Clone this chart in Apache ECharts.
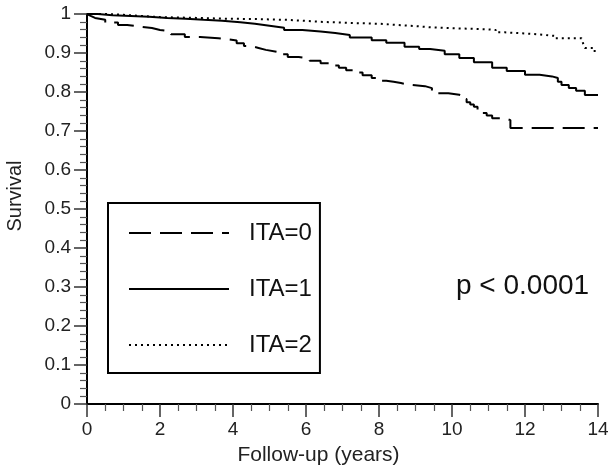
<!DOCTYPE html>
<html>
<head>
<meta charset="utf-8">
<script src="https://cdn.jsdelivr.net/npm/echarts@6/dist/echarts.min.js"></script>
<style>html,body{margin:0;padding:0;background:#fff;}#c{width:608px;height:472px;}</style>
</head>
<body>
<div id="c"></div>
<script>
const xTicks = [0, 2, 4, 6, 8, 10, 12, 14];
const yTicks = [0, 0.1, 0.2, 0.3, 0.4, 0.5, 0.6, 0.7, 0.8, 0.9, 1];
const seriesNames = ['ITA=0', 'ITA=1', 'ITA=2'];
const ita0 = [[0,1],[0.05,0.995],[0.1,0.99],[0.22,0.985],[0.5,0.978],[0.85,0.972],[1.1,0.968],[1.4,0.964],[1.78,0.959],[2.0,0.955],[2.3,0.948],[2.68,0.941],[3.1,0.938],[3.6,0.936],[3.8,0.932],[4.1,0.925],[4.3,0.918],[4.5,0.913],[4.7,0.908],[4.9,0.903],[5.2,0.897],[5.5,0.89],[5.8,0.886],[6.1,0.88],[6.4,0.874],[6.7,0.868],[6.9,0.862],[7.1,0.856],[7.3,0.85],[7.55,0.843],[7.8,0.836],[8.0,0.829],[8.2,0.826],[8.4,0.823],[8.6,0.819],[8.8,0.815],[9.26,0.81],[9.45,0.803],[9.6,0.797],[9.9,0.793],[10.2,0.79],[10.3,0.782],[10.4,0.774],[10.5,0.768],[10.6,0.762],[10.7,0.754],[10.8,0.746],[10.95,0.74],[11.1,0.733],[11.45,0.728],[11.6,0.708],[14,0.708]];
const ita1 = [[0,1],[0.3,0.997],[0.7,0.995],[1.2,0.993],[1.7,0.99],[2.2,0.988],[2.7,0.985],[3.2,0.983],[3.7,0.979],[4.2,0.975],[4.6,0.97],[5.0,0.965],[5.4,0.959],[5.9,0.955],[6.4,0.951],[6.8,0.946],[7.2,0.94],[7.8,0.933],[8.2,0.926],[8.7,0.916],[9.1,0.91],[9.4,0.906],[9.8,0.897],[10.2,0.887],[10.6,0.876],[11.1,0.862],[11.5,0.854],[12,0.844],[12.4,0.84],[12.74,0.836],[12.9,0.826],[13.0,0.818],[13.2,0.81],[13.4,0.803],[13.64,0.792],[14,0.792]];
const ita2 = [[0,1],[0.5,0.998],[1,0.995],[1.5,0.992],[2,0.99],[3,0.988],[3.8,0.987],[4.6,0.985],[5.5,0.98],[6.4,0.977],[7.2,0.975],[8,0.972],[8.5,0.969],[9,0.966],[9.4,0.963],[10.2,0.961],[10.9,0.959],[11.2,0.953],[11.45,0.949],[12.2,0.944],[12.8,0.938],[13.55,0.933],[13.6,0.922],[13.64,0.913],[13.86,0.905],[14,0.905]];
const pText = 'p < 0.0001';

const font = 'Liberation Sans, Arial, sans-serif';
const chart = echarts.init(document.getElementById('c'));
const axisCommon = {
  axisLine: {lineStyle: {color: '#000', width: 2}},
  axisTick: {show: true, inside: false, length: 13, lineStyle: {color: '#333', width: 1.5}},
  minorTick: {show: true, length: 7, lineStyle: {color: '#555', width: 1.2}},
  splitLine: {show: false},
  minorSplitLine: {show: false},
  axisLabel: {color: '#222', fontSize: 19, fontFamily: font, margin: 16},
  nameTextStyle: {color: '#222', fontSize: 20, fontFamily: font}
};
chart.setOption({
  animation: false,
  backgroundColor: '#fff',
  grid: {left: 87, right: 10, top: 14, bottom: 68, containLabel: false, outerBoundsMode: 'none'},
  xAxis: Object.assign({}, axisCommon, {
    type: 'value', min: xTicks[0], max: xTicks[xTicks.length-1], interval: 2,
    minorTick: Object.assign({}, axisCommon.minorTick, {splitNumber: 4}),
    name: 'Follow-up (years)', nameLocation: 'middle', nameGap: 41,
    nameTextStyle: Object.assign({}, axisCommon.nameTextStyle, {fontSize: 21, padding: [0, 48, 0, 0]})
  }),
  yAxis: Object.assign({}, axisCommon, {
    type: 'value', min: yTicks[0], max: yTicks[yTicks.length-1], interval: 0.1,
    minorTick: Object.assign({}, axisCommon.minorTick, {splitNumber: 5}),
    axisLabel: Object.assign({}, axisCommon.axisLabel, {formatter: v => String(+v.toFixed(1))}),
    name: 'Survival', nameLocation: 'middle', nameGap: 62,
    nameTextStyle: Object.assign({}, axisCommon.nameTextStyle, {padding: [0, 0, 0, 26]})
  }),
  legend: {
    orient: 'vertical', left: 108, top: 203,
    data: seriesNames,
    itemWidth: 100, itemHeight: 24, itemGap: 32,
    padding: [18, 8, 16, 20],
    borderColor: '#000', borderWidth: 2,
    itemStyle: {opacity: 0, color: 'transparent', borderWidth: 0},
    textStyle: {color: '#111', fontSize: 24, fontFamily: font, padding: [0, 0, 0, 15]}
  },
  graphic: [{
    type: 'text', left: 456, top: 272,
    style: {text: pText, fill: '#111', font: '28px ' + font}
  }],
  series: [
    {name: seriesNames[0], type: 'line', step: 'end', data: ita0, symbol: 'none',
     lineStyle: {color: '#000', width: 2, type: [22, 9]}, itemStyle: {color: '#000'}},
    {name: seriesNames[1], type: 'line', step: 'end', data: ita1, symbol: 'none',
     lineStyle: {color: '#000', width: 2, type: 'solid'}, itemStyle: {color: '#000'}},
    {name: seriesNames[2], type: 'line', step: 'end', data: ita2, symbol: 'none',
     lineStyle: {color: '#000', width: 2, type: [2, 4]}, itemStyle: {color: '#000'}}
  ]
});
</script>
</body>
</html>
